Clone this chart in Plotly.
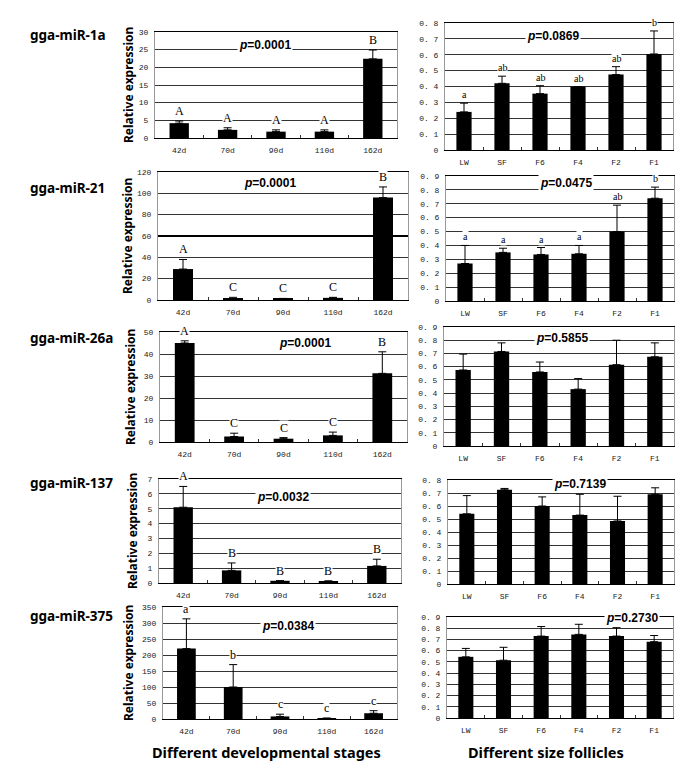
import plotly.graph_objects as go

W, H = 685, 773
OFF = 8  # the page body adds an 8px margin around the figure

stages = ["42d", "70d", "90d", "110d", "162d"]
follicles = ["LW", "SF", "F6", "F4", "F2", "F1"]
mirnas = ["gga-miR-1a", "gga-miR-21", "gga-miR-26a", "gga-miR-137", "gga-miR-375"]

# developmental stages: bar mean and top of error bar
mir1a_stage = [4.2, 2.3, 1.8, 1.8, 22.4]
mir1a_stage_top = [4.8, 2.9, 2.3, 2.3, 24.9]
mir1a_stage_letters = ["A", "A", "A", "A", "B"]
mir21_stage = [29, 1.0, 1.0, 2.0, 96]
mir21_stage_top = [38, 2.5, 1.5, 2.5, 106]
mir21_stage_letters = ["A", "C", "C", "C", "B"]
mir26a_stage = [45, 2.5, 1.5, 3.0, 31.2]
mir26a_stage_top = [46, 4.0, 2.0, 4.5, 41]
mir26a_stage_letters = ["A", "C", "C", "C", "B"]
mir137_stage = [5.1, 0.85, 0.15, 0.1, 1.15]
mir137_stage_top = [6.5, 1.35, 0.15, 0.15, 1.6]
mir137_stage_letters = ["A", "B", "B", "B", "B"]
mir375_stage = [220, 100, 8, 2, 18]
mir375_stage_top = [313, 170, 15, 3, 26]
mir375_stage_letters = ["a", "b", "c", "c", "c"]

# follicles of different size
mir1a_foll = [0.24, 0.42, 0.355, 0.40, 0.475, 0.605]
mir1a_foll_top = [0.295, 0.465, 0.405, 0.40, 0.525, 0.75]
mir1a_foll_letters = ["a", "ab", "ab", "ab", "ab", "b"]
mir21_foll = [0.27, 0.35, 0.335, 0.34, 0.50, 0.74]
mir21_foll_top = [0.40, 0.38, 0.385, 0.40, 0.69, 0.82]
mir21_foll_letters = ["a", "a", "a", "a", "ab", "b"]
mir26a_foll = [0.575, 0.715, 0.56, 0.43, 0.615, 0.675]
mir26a_foll_top = [0.695, 0.78, 0.635, 0.51, 0.80, 0.78]
mir137_foll = [0.54, 0.725, 0.60, 0.53, 0.485, 0.69]
mir137_foll_top = [0.68, 0.735, 0.67, 0.69, 0.675, 0.74]
mir375_foll = [0.545, 0.515, 0.73, 0.745, 0.73, 0.68]
mir375_foll_top = [0.62, 0.63, 0.815, 0.835, 0.805, 0.735]

stage_p = ["0.0001", "0.0001", "0.0001", "0.0032", "0.0384"]
foll_p = ["0.0869", "0.0475", "0.5855", "0.7139", "0.2730"]

stage_ymax = [30, 120, 50, 7, 350]
stage_dtick = [5, 20, 10, 1, 50]
foll_ymax = [0.8, 0.9, 0.9, 0.8, 0.9]

fig = go.Figure()
annotations = []
shapes = []

TICKFONT = dict(family="Liberation Mono", size=8, color="#222")


def px_x(p):
    return (p - OFF) / W


def px_y(p):
    return 1 - (p - OFF) / H


def add_panel(k, cats, vals, tops, letters, ptext, p_pos, box, ymax, dtick,
              right=False, letter_font=None):
    xa = "x" if k == 1 else f"x{k}"
    ya = "y" if k == 1 else f"y{k}"
    errs = [t - v for v, t in zip(vals, tops)]
    fig.add_trace(go.Bar(
        x=cats, y=vals, xaxis=xa, yaxis=ya, width=0.4,
        marker=dict(color="black", line=dict(width=0)),
        error_y=dict(type="data", array=errs, arrayminus=[0] * len(vals),
                     symmetric=False, color="black", thickness=1, width=4),
        showlegend=False,
    ))
    x0, x1, y0, y1 = box
    nticks = int(round(ymax / dtick))
    tickvals = [round(i * dtick, 3) for i in range(nticks + 1)]
    if right:
        ticktext = ["0" if v == 0 else f"{v:.1f}".replace(".", ". ") for v in tickvals]
    else:
        ticktext = [f"{v:g}" for v in tickvals]
    sfx = "" if k == 1 else str(k)
    fig.layout["xaxis" + sfx] = dict(
        domain=[px_x(x0), px_x(x1)], anchor=ya, type="category",
        showline=True, linecolor="black", linewidth=1, mirror=True,
        ticks="inside", ticklen=3, tickcolor="#333", tickson="boundaries",
        showgrid=False, tickfont=TICKFONT, fixedrange=True,
        automargin=False, ticklabelstandoff=4,
    )
    fig.layout["yaxis" + sfx] = dict(
        domain=[px_y(y1), px_y(y0)], anchor=xa, range=[0, ymax],
        tickvals=tickvals, ticktext=ticktext, tickfont=TICKFONT,
        showgrid=True, gridcolor="#333", gridwidth=1,
        showline=True, linecolor="#999", mirror=True, zeroline=False,
        ticks="", fixedrange=True, automargin=False, ticklabelstandoff=4,
    )
    if letters:
        for c, t, lab in zip(cats, tops, letters):
            annotations.append(dict(
                x=c, y=t, xref=xa, yref=ya, text=lab, showarrow=False,
                xanchor="center", yanchor="bottom", yshift=2,
                bgcolor="white", borderpad=0, font=letter_font,
            ))
    annotations.append(dict(
        x=p_pos[0], y=p_pos[1], xref=xa, yref=ya,
        text=f"<b><i>p</i>=" + ptext + "</b>", showarrow=False,
        xanchor="center", yanchor="middle", bgcolor="white", borderpad=1,
        font=dict(family="Liberation Sans", size=12, color="black"),
    ))


stage_vals = [mir1a_stage, mir21_stage, mir26a_stage, mir137_stage, mir375_stage]
stage_tops = [mir1a_stage_top, mir21_stage_top, mir26a_stage_top, mir137_stage_top, mir375_stage_top]
stage_letters = [mir1a_stage_letters, mir21_stage_letters, mir26a_stage_letters,
                 mir137_stage_letters, mir375_stage_letters]
foll_vals = [mir1a_foll, mir21_foll, mir26a_foll, mir137_foll, mir375_foll]
foll_tops = [mir1a_foll_top, mir21_foll_top, mir26a_foll_top, mir137_foll_top, mir375_foll_top]
foll_letters = [mir1a_foll_letters, mir21_foll_letters, None, None, None]

# panel boxes in pixels: x0, x1, ytop, ybottom
left_boxes = [(155, 397, 32, 138), (158, 408, 172, 300), (160, 407, 332, 442),
              (159, 401, 479, 583), (163, 397, 607, 719)]
right_boxes = [(445, 673, 23, 150), (446, 674, 176, 301), (444, 674, 327, 446),
               (448, 674, 480, 584), (447, 673, 617, 718)]
left_ppos = [(1.78, 26.3), (1.74, 110), (2.43, 45), (2.06, 5.8), (2.17, 290)]
right_ppos = [(2.34, 0.72), (2.66, 0.85), (2.58, 0.82), (3.0, 0.77), (4.41, 0.89)]
name_y = [35, 188, 338, 483, 616]
ytitle_x = [128, 128, 130, 132, 128]

for i in range(5):
    add_panel(2 * i + 1, stages, stage_vals[i], stage_tops[i], stage_letters[i],
              stage_p[i], left_ppos[i], left_boxes[i], stage_ymax[i], stage_dtick[i],
              letter_font=dict(family="Liberation Serif", size=12, color="black"))
    add_panel(2 * i + 2, follicles, foll_vals[i], foll_tops[i], foll_letters[i],
              foll_p[i], right_ppos[i], right_boxes[i], foll_ymax[i], 0.1, right=True,
              letter_font=dict(family="Liberation Serif", size=10, color="black"))
    annotations.append(dict(
        x=px_x(28), y=px_y(name_y[i]), xref="paper", yref="paper",
        text="<b>" + mirnas[i] + "</b>", showarrow=False,
        xanchor="left", yanchor="middle",
        font=dict(family="Noto Sans", size=13.5, color="black"),
    ))
    b = left_boxes[i]
    annotations.append(dict(
        x=px_x(ytitle_x[i]), y=px_y((b[2] + b[3]) / 2), xref="paper", yref="paper",
        text="<b>Relative expression</b>", showarrow=False, textangle=-90,
        xanchor="center", yanchor="middle",
        font=dict(family="Noto Sans", size=12, color="black"),
    ))

# heavier gridline seen in the miR-21 stage panel
shapes.append(dict(type="line", xref="x3 domain", yref="y3", x0=0, x1=1, y0=60, y1=60,
                   line=dict(color="black", width=2)))

annotations.append(dict(
    x=px_x(266), y=px_y(752), xref="paper", yref="paper",
    text="<b>Different developmental stages</b>", showarrow=False,
    xanchor="center", yanchor="middle",
    font=dict(family="Noto Sans", size=14.5, color="black"),
))
annotations.append(dict(
    x=px_x(546), y=px_y(752), xref="paper", yref="paper",
    text="<b>Different size follicles</b>", showarrow=False,
    xanchor="center", yanchor="middle",
    font=dict(family="Noto Sans", size=14.5, color="black"),
))

fig.update_layout(
    width=W, height=H,
    margin=dict(l=0, r=0, t=0, b=0, autoexpand=False),
    paper_bgcolor="white", plot_bgcolor="white",
    annotations=annotations,
    shapes=shapes,
)

fig.write_html("out.html")
